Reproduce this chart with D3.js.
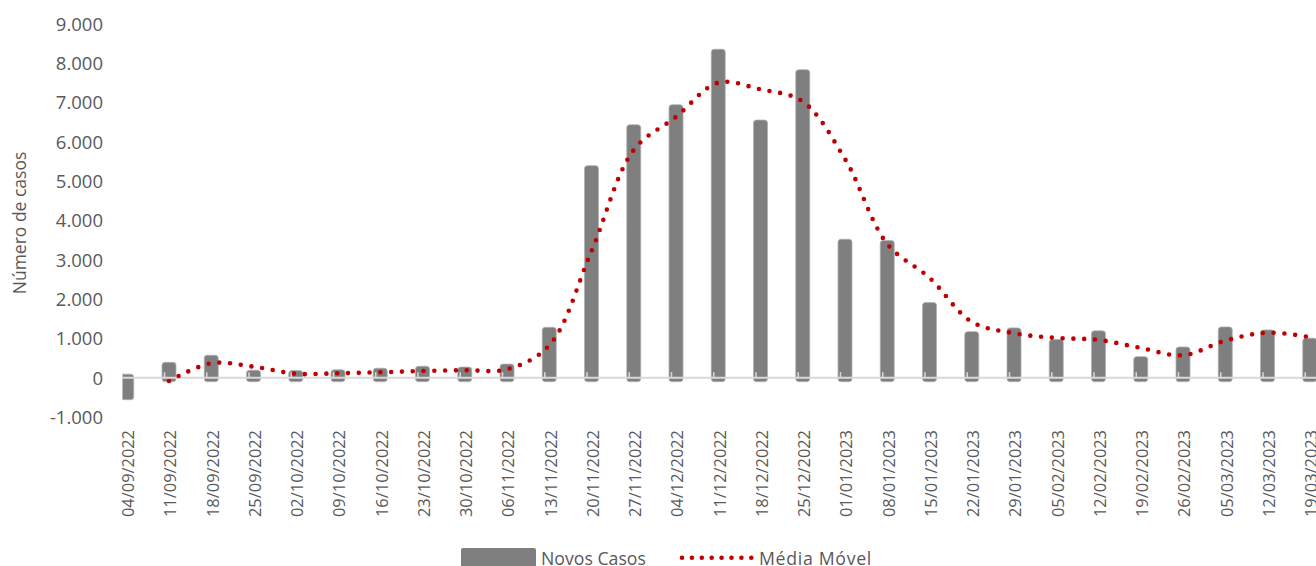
<!DOCTYPE html>
<html>
<head>
<meta charset="utf-8">
<script src="https://cdn.jsdelivr.net/npm/d3@7"></script>
<style>
  html, body { margin: 0; padding: 0; background: #ffffff; }
  svg { display: block; }
  text { font-family: "Open Sans", "Noto Sans", sans-serif; fill: #595959; }
</style>
</head>
<body>
<svg id="chart" width="1316" height="566"></svg>
<script>
// ---- data ----
const categories = [
  "04/09/2022","11/09/2022","18/09/2022","25/09/2022","02/10/2022","09/10/2022",
  "16/10/2022","23/10/2022","30/10/2022","06/11/2022","13/11/2022","20/11/2022",
  "27/11/2022","04/12/2022","11/12/2022","18/12/2022","25/12/2022","01/01/2023",
  "08/01/2023","15/01/2023","22/01/2023","29/01/2023","05/02/2023","12/02/2023",
  "19/02/2023","26/02/2023","05/03/2023","12/03/2023","19/03/2023"
];
const novosCasos = [
  -560, 390, 570, 190, 180, 200, 240, 290, 270, 345, 1280, 5390,
  6430, 6940, 8350, 6550, 7830, 3520, 3490, 1910, 1170, 1265,
  970, 1190, 535, 780, 1290, 1215, 1005
];
const mediaMovel = [
  null, -85, 366, 280, 100, 112, 137, 170, 190, 213, 820, 3220,
  5790, 6630, 7500, 7330, 7020, 5560, 3400, 2540, 1420, 1130,
  1010, 960, 756, 570, 940, 1145, 1030
];
const yTicks = [-1000, 0, 1000, 2000, 3000, 4000, 5000, 6000, 7000, 8000, 9000];
const seriesNames = ["Novos Casos", "Média Móvel"];
const yTitle = "Número de casos";

// ---- layout ----
const svg = d3.select("#chart");
const plotLeft = 122.5;
const x = d3.scalePoint().domain(categories).range([126.75, 1309.75]);
const y = d3.scaleLinear().domain([-1000, 9000]).range([417.0, 23.7]);
const fmt = d3.formatLocale({decimal: ",", thousands: ".", grouping: [3], currency: ["R$", ""], minus: "-"}).format(",d");

const colBar = "#7f7f7f";
const colLine = "#c00000";
const colAxis = "#d9d9d9";

svg.append("defs").append("clipPath").attr("id", "plotclip")
  .append("rect").attr("x", plotLeft).attr("y", 0).attr("width", 1316 - plotLeft).attr("height", 450);

// y tick labels
const yAxis = d3.axisLeft(y).tickValues(yTicks).tickFormat(fmt).tickSize(0).tickPadding(0);
const gy = svg.append("g").attr("transform", "translate(103,0)").call(yAxis);
gy.select(".domain").remove();
gy.selectAll("text").style("font-size", "18.5px").attr("fill", "#595959")
  .style("font-family", "'Open Sans', sans-serif").attr("dy", "0.35em");

// y title
svg.append("text")
  .attr("transform", "translate(26,223) rotate(-90)")
  .attr("text-anchor", "middle")
  .style("font-size", "17.5px")
  .text(yTitle);

const plot = svg.append("g").attr("clip-path", "url(#plotclip)");
const y0 = y(0);
const bw = 14;

// bars
plot.selectAll("rect.bar").data(novosCasos).join("rect")
  .attr("class", "bar")
  .attr("x", (d, i) => x(categories[i]) - bw / 2)
  .attr("width", bw)
  .attr("y", d => d >= 0 ? y(d) : y0 - 3.5)
  .attr("height", d => d >= 0 ? (y0 + 4) - y(d) : y(d) - (y0 - 3.5))
  .attr("rx", 3).attr("ry", 3)
  .attr("fill", colBar)
  .attr("stroke", "#b0b0b0").attr("stroke-width", 0.8);

// zero axis line
plot.append("line")
  .attr("x1", plotLeft).attr("x2", 1316)
  .attr("y1", y0).attr("y2", y0)
  .attr("stroke", colAxis).attr("stroke-width", 2);

// tick marks
plot.selectAll("line.tick").data(categories).join("line")
  .attr("class", "tick")
  .attr("x1", d => x(d) - 4.5).attr("x2", d => x(d) - 4.5)
  .attr("y1", y0).attr("y2", y0 - 5.5)
  .attr("stroke", colAxis).attr("stroke-width", 1.5);

// moving average line (smoothed dotted)
const line = d3.line()
  .defined(d => d.v !== null)
  .x(d => x(d.c))
  .y(d => y(d.v))
  .curve(d3.curveCatmullRom.alpha(0.5));
svg.append("path")
  .datum(categories.map((c, i) => ({c, v: mediaMovel[i]})))
  .attr("d", line)
  .attr("fill", "none")
  .attr("stroke", colLine)
  .attr("stroke-width", 4.6)
  .attr("stroke-linecap", "round")
  .attr("stroke-dasharray", "0 10.8");

// x labels
svg.selectAll("text.xl").data(categories).join("text")
  .attr("class", "xl")
  .attr("transform", d => `translate(${x(d) + 1.5},430) rotate(-90)`)
  .attr("text-anchor", "end")
  .attr("dy", "0.35em")
  .style("font-size", "16.4px")
  .text(d => d);

// legend
const lg = svg.append("g");
lg.append("rect").attr("x", 461).attr("y", 548).attr("width", 75).attr("height", 24)
  .attr("rx", 2).attr("fill", colBar);
lg.append("text").attr("x", 541).attr("y", 565).style("font-size", "17.7px").text(seriesNames[0]);
lg.append("line").attr("x1", 682).attr("x2", 751.5).attr("y1", 557.7).attr("y2", 557.7)
  .attr("stroke", colLine).attr("stroke-width", 4.6)
  .attr("stroke-linecap", "round").attr("stroke-dasharray", "0 9.9");
lg.append("text").attr("x", 759).attr("y", 565).style("font-size", "17.7px")
  .style("letter-spacing", "0.7px").text(seriesNames[1]);
</script>
</body>
</html>
